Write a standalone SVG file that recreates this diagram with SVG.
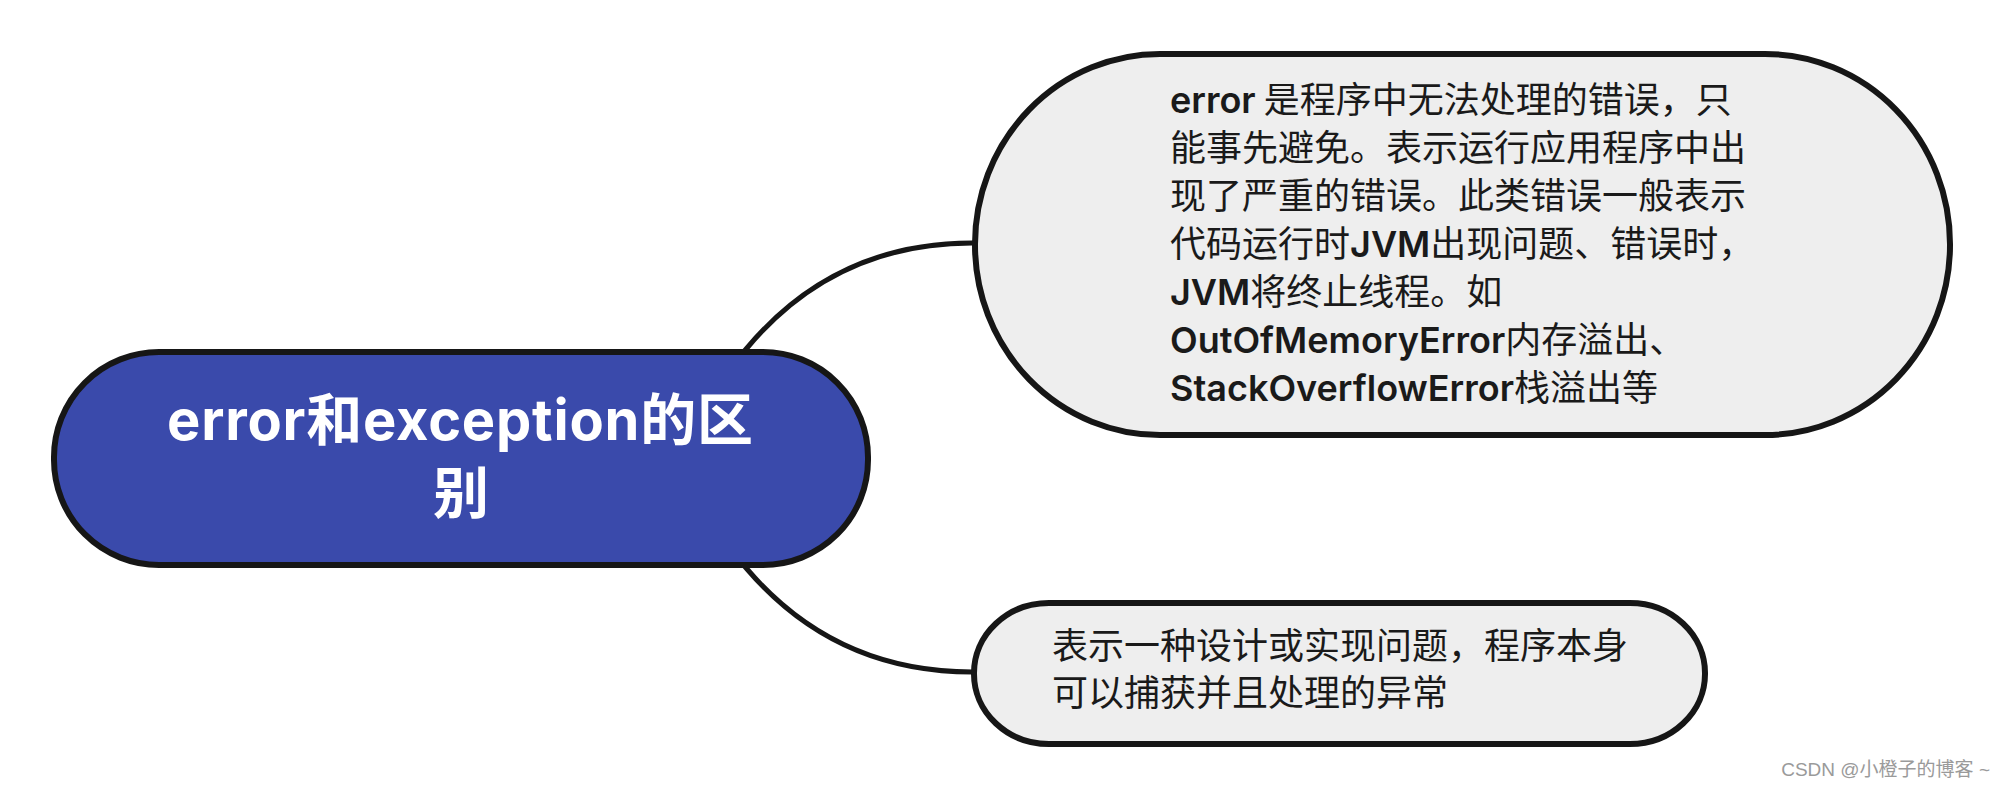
<svg xmlns="http://www.w3.org/2000/svg" width="2002" height="796" viewBox="0 0 2002 796">
  <style>
    .conn { fill: none; stroke: #161616; stroke-width: 5; stroke-linecap: round; }
    .main { fill: #3a4aab; stroke: #161616; stroke-width: 6; }
    .sub { fill: #eeeeee; stroke: #161616; stroke-width: 6; }
    .mainText { font-family: Inter, "Noto Sans CJK SC", sans-serif; font-weight: 700; font-size: 56px; fill: #ffffff; }
    .subText { font-family: "Noto Sans CJK SC", sans-serif; font-weight: 400; font-size: 36px; fill: #1a1a1a; }
    .lat { font-family: Inter, "Noto Sans CJK SC", sans-serif; font-weight: 600; }
    .wm { font-family: "Liberation Sans", "Noto Sans CJK SC", sans-serif; font-size: 19px; fill: #9a9a9a; }
  </style>
  <rect x="0" y="0" width="2002" height="796" fill="#ffffff"/>
  <g id="connectors">
    <path class="conn" d="M735,362 L747,348 Q835,243 972,243 L990,243"/>
    <path class="conn" d="M735,555 L747,569 Q835,672 972,672 L990,672"/>
  </g>
  <g id="node-main">
    <rect class="main" x="54" y="352" width="814" height="213" rx="105" ry="105"/>
    <text class="mainText">
      <tspan x="167" y="440" textLength="586" lengthAdjust="spacing">error和exception的区</tspan>
      <tspan x="461" y="513" text-anchor="middle">别</tspan>
    </text>
  </g>
  <g id="node-error">
    <rect class="sub" x="975" y="54" width="975" height="381" rx="185" ry="190"/>
    <text class="subText">
      <tspan x="1170" y="113"><tspan class="lat">error</tspan> 是程序中无法处理的错误，只</tspan>
      <tspan x="1170" y="161">能事先避免。表示运行应用程序中出</tspan>
      <tspan x="1170" y="209">现了严重的错误。此类错误一般表示</tspan>
      <tspan x="1170" y="257">代码运行时<tspan class="lat">JVM</tspan>出现问题、错误时，</tspan>
      <tspan x="1170" y="305"><tspan class="lat">JVM</tspan>将终止线程。如</tspan>
      <tspan x="1170" y="353"><tspan class="lat">OutOfMemoryError</tspan>内存溢出、</tspan>
      <tspan x="1170" y="401"><tspan class="lat">StackOverflowError</tspan>栈溢出等</tspan>
    </text>
  </g>
  <g id="node-exception">
    <rect class="sub" x="974" y="603" width="731" height="141" rx="75" ry="70"/>
    <text class="subText">
      <tspan x="1052" y="659">表示一种设计或实现问题，程序本身</tspan>
      <tspan x="1052" y="706">可以捕获并且处理的异常</tspan>
    </text>
  </g>
  <text class="wm" x="1990" y="776" text-anchor="end">CSDN @小橙子的博客 ~</text>
</svg>
